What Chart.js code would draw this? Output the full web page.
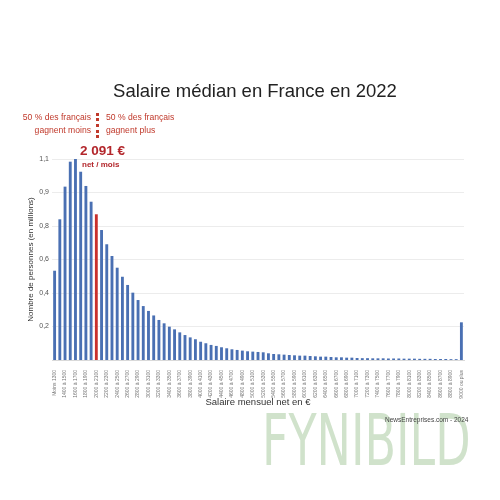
<!DOCTYPE html>
<html lang="fr">
<head>
<meta charset="utf-8">
<script src="https://cdn.jsdelivr.net/npm/chart.js@4.4.1/dist/chart.umd.min.js"></script>
<style>
    body { margin: 0; background: #fff; font-family: "Liberation Sans", Arial, sans-serif; }
    #wrap { position: relative; width: 500px; height: 500px; overflow: hidden; background: #fff; }
    #chart { position: absolute; left: 0; top: 0; }
    .txt { position: absolute; white-space: nowrap; }
    #title { left: 5px; width: 500px; top: 80px; text-align: center; font-size: 18.5px; color: #222; }
    .note { font-size: 8.6px; line-height: 13px; color: #c0392b; }
    #note-left { right: 409px; top: 111px; text-align: right; }
    #note-right { left: 106px; top: 111px; }
    #divider { position: absolute; left: 96px; top: 113px; height: 25px; border-left: 3px dotted #c0392b; }
    #median { left: 80px; top: 143px; font-size: 13.5px; font-weight: bold; color: #b3262b; }
    #median-sub { left: 82px; top: 160px; font-size: 8px; font-weight: bold; color: #b3262b; }
    #source { left: 385px; top: 416px; font-size: 6.5px; color: #444; }
    #watermark { left: 262px; top: 404px; line-height: 1; font-family: "DejaVu Sans Condensed", "DejaVu Sans", sans-serif;
                 font-size: 72px; color: rgba(150, 190, 140, 0.45); transform: scaleX(0.71); transform-origin: left top; }
</style>
</head>
<body>
<div id="wrap">
    <canvas id="chart" width="500" height="500"></canvas>
    <div class="txt" id="title">Salaire médian en France en 2022</div>
    <div class="txt note" id="note-left">50 % des français<br>gagnent moins</div>
    <div id="divider"></div>
    <div class="txt note" id="note-right">50 % des français<br>gagnent plus</div>
    <div class="txt" id="median">2 091 €</div>
    <div class="txt" id="median-sub">net / mois</div>
    <div class="txt" id="watermark">FYNIBILD</div>
    <div class="txt" id="source">NewsEntreprises.com - 2024</div>
</div>
<script>
// tranches de salaire : "Moins 1300", "1300 à 1400" ... "8900 à 9000", "9000 ou plus"
const salaryBands = ['Moins 1300'];
for (let s = 1300; s < 9000; s += 100) {
    salaryBands.push(s + ' à ' + (s + 100));
}
salaryBands.push('9000 ou plus');

const peopleMillions = [
    0.533, 0.84, 1.035, 1.184, 1.214, 1.124, 1.039, 0.945, 0.87, 0.776,
    0.691, 0.621, 0.551, 0.497, 0.448, 0.402, 0.358, 0.322, 0.293, 0.266,
    0.239, 0.219, 0.199, 0.183, 0.165, 0.149, 0.135, 0.124, 0.109, 0.1,
    0.09, 0.084, 0.076, 0.07, 0.064, 0.06, 0.056, 0.052, 0.05, 0.048,
    0.046, 0.04, 0.036, 0.034, 0.032, 0.03, 0.028, 0.026, 0.026, 0.024,
    0.022, 0.02, 0.02, 0.018, 0.016, 0.016, 0.014, 0.014, 0.012, 0.011,
    0.011, 0.01, 0.01, 0.01, 0.009, 0.009, 0.009, 0.008, 0.008, 0.008,
    0.007, 0.007, 0.007, 0.006, 0.006, 0.006, 0.005, 0.005, 0.225
];

// libellés de l'axe vertical tels qu'imprimés sur l'original
const yTickValues = [0.2, 0.4, 0.6, 0.8, 1.0, 1.2];
const yTickLabels = ['0,2', '0,4', '0,6', '0,8', '0,9', '1,1'];

const medianBand = '2000 à 2100';
const BLUE = '#4a70b3';
const RED = '#c9302c';

const barColors = salaryBands.map(b => b === medianBand ? RED : BLUE);

new Chart(document.getElementById('chart').getContext('2d'), {
    type: 'bar',
    data: {
        labels: salaryBands,
        datasets: [{
            data: peopleMillions,
            backgroundColor: barColors,
            barPercentage: 0.55,
            categoryPercentage: 1
        }]
    },
    options: {
        responsive: false,
        animation: false,
        layout: { padding: { top: 159, right: 36, bottom: 84, left: 22 } },
        plugins: { legend: { display: false }, tooltip: { enabled: false } },
        scales: {
            x: {
                afterFit: s => { s.height = 56; },
                grid: { display: false },
                border: { display: true, color: '#d9d9d9' },
                ticks: {
                    autoSkip: false,
                    minRotation: 90,
                    maxRotation: 90,
                    padding: 2,
                    font: { size: 5, family: 'Liberation Sans' },
                    color: '#777',
                    callback: (v, i) => i % 2 === 0 ? salaryBands[i] : ''
                },
                title: {
                    display: true,
                    text: 'Salaire mensuel net en €',
                    font: { size: 9.5, family: 'Liberation Sans' },
                    color: '#333',
                    padding: { top: 0, bottom: 8 }
                }
            },
            y: {
                min: 0,
                max: 1.2,
                afterFit: s => { s.width = 30; },
                afterBuildTicks: s => { s.ticks = yTickValues.map(v => ({ value: v })); },
                grid: { color: '#ececec', drawTicks: false },
                border: { display: false },
                ticks: {
                    padding: 3,
                    font: { size: 7, family: 'Liberation Sans' },
                    color: '#555',
                    callback: v => {
                        const i = yTickValues.findIndex(t => Math.abs(t - v) < 1e-6);
                        return i >= 0 ? yTickLabels[i] : '';
                    }
                },
                title: {
                    display: true,
                    text: 'Nombre de personnes (en millions)',
                    font: { size: 8, family: 'Liberation Sans' },
                    color: '#333',
                    padding: 4
                }
            }
        }
    }
});
</script>
</body>
</html>
